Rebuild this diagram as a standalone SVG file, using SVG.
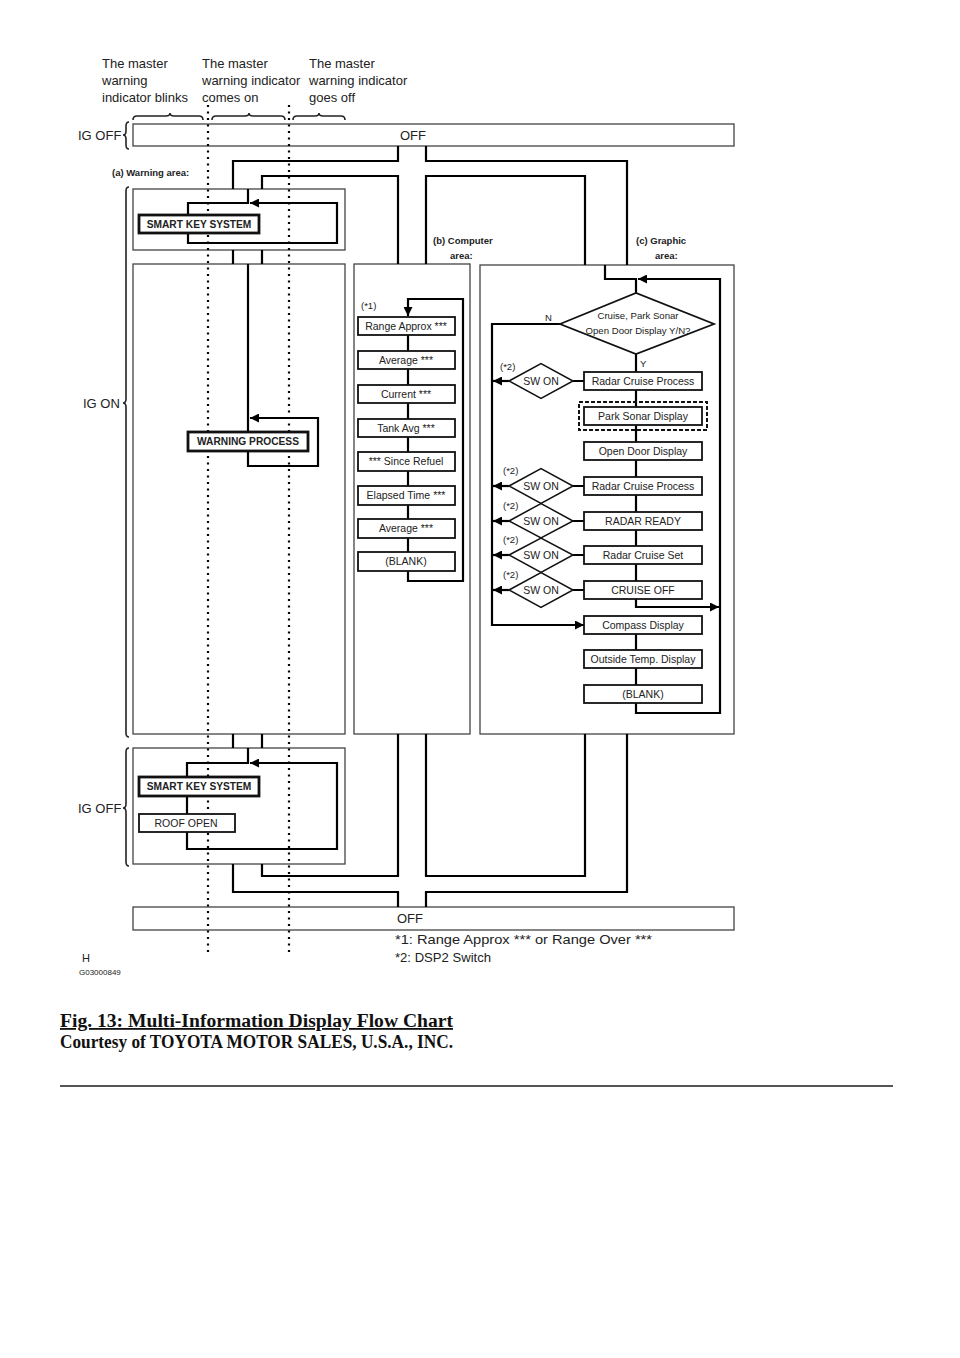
<svg xmlns="http://www.w3.org/2000/svg" width="960" height="1358" viewBox="0 0 960 1358">
<defs>
<style>
.t{font-family:"Liberation Sans",Arial,sans-serif;fill:#222}
.s13{font-size:13px}
.s9{font-size:9.5px}
.s10{font-size:10.5px}
.b{font-weight:bold}
.area{fill:#fff;stroke:#444;stroke-width:1.3}
.flow{fill:none;stroke:#000;stroke-width:2.2}
.br{fill:none;stroke:#222;stroke-width:1.6}
.box{fill:#fff;stroke:#111;stroke-width:1.8}
.bbox{fill:#fff;stroke:#111;stroke-width:2.8}
.dot{stroke:#000;stroke-width:2.2;stroke-dasharray:2 4.5;fill:none}
.cap{font-family:"Liberation Serif","Times New Roman",serif;font-weight:bold;font-size:18px;fill:#111}
</style>
<marker id="ar" viewBox="0 0 10 10" refX="10" refY="5" markerWidth="9" markerHeight="9" markerUnits="userSpaceOnUse" orient="auto"><path d="M0,0 L10,5 L0,10 z" fill="#000"/></marker>
</defs>
<rect width="960" height="1358" fill="#fff"/>

<g id="headers">
<text class="t s13" x="102" y="68">The master</text>
<text class="t s13" x="102" y="85">warning</text>
<text class="t s13" x="102" y="102">indicator blinks</text>
<text class="t s13" x="202" y="68">The master</text>
<text class="t s13" x="202" y="85">warning indicator</text>
<text class="t s13" x="202" y="102">comes on</text>
<text class="t s13" x="309" y="68">The master</text>
<text class="t s13" x="309" y="85">warning indicator</text>
<text class="t s13" x="309" y="102">goes off</text>
<path class="br" d="M133,120 q0,-4 4,-4 H166 q4,0 4,-3 q0,3 4,3 H199 q4,0 4,4"/>
<path class="br" d="M212,120 q0,-4 4,-4 H245 q4,0 4,-3 q0,3 4,3 H281 q4,0 4,4"/>
<path class="br" d="M293,120 q0,-4 4,-4 H315 q4,0 4,-3 q0,3 4,3 H341 q4,0 4,4"/>
</g>

<g id="brackets">
<path class="br" d="M129,122 q-3,0 -3,4 V131 q0,4 -3,4 q3,0 3,4 V145 q0,4 3,4"/>
<text class="t s13" x="78" y="140">IG OFF</text>
<path class="br" d="M129,187 q-3,0 -3,4 V399 q0,4 -3,4 q3,0 3,4 V733 q0,4 3,4"/>
<text class="t s13" x="83" y="408">IG ON</text>
<path class="br" d="M129,748 q-3,0 -3,4 V804 q0,4 -3,4 q3,0 3,4 V862 q0,4 3,4"/>
<text class="t s13" x="78" y="813">IG OFF</text>
</g>

<g id="areas">
<rect id="off-top" class="area" x="133" y="124" width="601" height="22"/>
<text class="t s13" x="400" y="140">OFF</text>
<rect id="warning-area" class="area" x="133" y="189" width="212" height="61"/>
<rect id="igon-area" class="area" x="133" y="264" width="212" height="470"/>
<rect id="computer-area" class="area" x="354" y="264" width="116" height="470"/>
<rect id="graphic-area" class="area" x="480" y="265" width="254" height="469"/>
<rect id="igoff-area" class="area" x="133" y="748" width="212" height="116"/>
<rect id="off-bottom" class="area" x="133" y="907" width="601" height="23"/>
<text class="t s13" x="397" y="923">OFF</text>
<text class="t s9 b" x="112" y="176">(a) Warning area:</text>
<text class="t s9 b" x="433" y="244">(b) Computer</text>
<text class="t s9 b" x="450" y="259">area:</text>
<text class="t s9 b" x="636" y="244">(c) Graphic</text>
<text class="t s9 b" x="655" y="259">area:</text>
</g>

<g id="dotted">
<line class="dot" x1="208" y1="105" x2="208" y2="954"/>
<line class="dot" x1="289" y1="105" x2="289" y2="954"/>
</g>

<g id="connectors">
<path class="flow" d="M398,146 V161 H233 V189"/>
<path class="flow" d="M426,146 V161 H627 V265"/>
<path class="flow" d="M262,189 V176 H398 V264"/>
<path class="flow" d="M426,264 V176 H585 V265"/>
<path class="flow" d="M233,250 V264 M262,250 V264 M233,734 V748 M262,734 V748"/>
<path class="flow" d="M233,864 V892 H398 V907"/>
<path class="flow" d="M262,864 V876 H398 V734"/>
<path class="flow" d="M426,734 V876 H585 V734"/>
<path class="flow" d="M627,734 V892 H426 V907"/>
<path class="flow" d="M248,189 V203 H188 V243 H337 V203 H250" marker-end="url(#ar)"/>
<path class="flow" d="M248,264 V431"/>
<path class="flow" d="M248,451 V466 H318 V418 H250" marker-end="url(#ar)"/>
<path class="flow" d="M248,748 V763 H187 V849 H337 V763 H250" marker-end="url(#ar)"/>
<path class="flow" d="M408,334 V553 M408,570 V581 H463 V299 H408 V316" marker-end="url(#ar)"/>
<path class="flow" d="M605,265 V279 H636 V293"/>
<path class="flow" d="M636,703 V713 H720 V279 H638" marker-end="url(#ar)"/>
<path class="flow" d="M560,324 H492 V625 H584" marker-end="url(#ar)"/>
<path class="flow" d="M636,354 V599"/>
<path class="flow" d="M636,599 V607 H719" marker-end="url(#ar)"/>
<path class="flow" d="M636,634 V703"/>
<path class="flow" d="M573,381 H584 M573,486 H584 M573,521 H584 M573,555 H584 M573,590 H584"/>
<path class="flow" d="M509,381 H493" marker-end="url(#ar)"/>
<path class="flow" d="M509,486 H493" marker-end="url(#ar)"/>
<path class="flow" d="M509,521 H493" marker-end="url(#ar)"/>
<path class="flow" d="M509,555 H493" marker-end="url(#ar)"/>
<path class="flow" d="M509,590 H493" marker-end="url(#ar)"/>
</g>

<g id="warning-nodes">
<g id="smart-key-1"><rect class="bbox" x="139" y="215" width="120" height="18"/><text class="t b" font-size="10.2" x="199" y="227.8" text-anchor="middle">SMART KEY SYSTEM</text></g>
<g id="warning-process"><rect class="bbox" x="188" y="432" width="120" height="19"/><text class="t b" font-size="10.2" x="248" y="445.3" text-anchor="middle">WARNING PROCESS</text></g>
<g id="smart-key-2"><rect class="bbox" x="139" y="777" width="120" height="19"/><text class="t b" font-size="10.2" x="199" y="790.3" text-anchor="middle">SMART KEY SYSTEM</text></g>
<g id="roof-open"><rect class="box" x="139" y="814" width="96" height="18" stroke-width="1.5"/><text class="t s10" x="186" y="827" text-anchor="middle">ROOF OPEN</text></g>
</g>

<g id="computer-nodes">
<text class="t s9" x="361" y="309">(*1)</text>
<g id="c1"><rect class="box" x="358" y="317" width="97" height="18"/><text class="t s10" x="406" y="329.8" text-anchor="middle">Range Approx ***</text></g>
<g id="c2"><rect class="box" x="358" y="351" width="97" height="18"/><text class="t s10" x="406" y="363.8" text-anchor="middle">Average ***</text></g>
<g id="c3"><rect class="box" x="358" y="385" width="97" height="18"/><text class="t s10" x="406" y="397.8" text-anchor="middle">Current ***</text></g>
<g id="c4"><rect class="box" x="358" y="419" width="97" height="18"/><text class="t s10" x="406" y="431.8" text-anchor="middle">Tank Avg ***</text></g>
<g id="c5"><rect class="box" x="358" y="452" width="97" height="19"/><text class="t s10" x="406" y="465.3" text-anchor="middle">*** Since Refuel</text></g>
<g id="c6"><rect class="box" x="358" y="486" width="97" height="19"/><text class="t s10" x="406" y="499.3" text-anchor="middle">Elapsed Time ***</text></g>
<g id="c7"><rect class="box" x="358" y="519" width="97" height="19"/><text class="t s10" x="406" y="532.3" text-anchor="middle">Average ***</text></g>
<g id="c8"><rect class="box" x="358" y="552" width="97" height="19"/><text class="t s10" x="406" y="565.3" text-anchor="middle">(BLANK)</text></g>
</g>

<g id="graphic-nodes">
<g id="decision"><polygon class="box" points="560,324 636,293 714,324 636,354"/>
<text class="t" font-size="9.6" x="638" y="319" text-anchor="middle">Cruise, Park Sonar</text>
<text class="t" font-size="9.6" x="638" y="334" text-anchor="middle">Open Door Display Y/N?</text></g>
<text class="t s9" x="545" y="321">N</text>
<text class="t s9" x="640" y="367">Y</text>
<g id="g1"><rect class="box" x="584" y="372" width="118" height="18"/><text class="t s10" x="643" y="384.8" text-anchor="middle">Radar Cruise Process</text></g>
<g id="g2"><rect x="579" y="402" width="128" height="28" fill="none" stroke="#111" stroke-width="2" stroke-dasharray="4 2"/><rect class="box" x="584" y="407" width="118" height="18"/><text class="t s10" x="643" y="419.8" text-anchor="middle">Park Sonar Display</text></g>
<g id="g3"><rect class="box" x="584" y="442" width="118" height="18"/><text class="t s10" x="643" y="454.8" text-anchor="middle">Open Door Display</text></g>
<g id="g4"><rect class="box" x="584" y="477" width="118" height="18"/><text class="t s10" x="643" y="489.8" text-anchor="middle">Radar Cruise Process</text></g>
<g id="g5"><rect class="box" x="584" y="512" width="118" height="18"/><text class="t s10" x="643" y="524.8" text-anchor="middle">RADAR READY</text></g>
<g id="g6"><rect class="box" x="584" y="546" width="118" height="18"/><text class="t s10" x="643" y="558.8" text-anchor="middle">Radar Cruise Set</text></g>
<g id="g7"><rect class="box" x="584" y="581" width="118" height="18"/><text class="t s10" x="643" y="593.8" text-anchor="middle">CRUISE OFF</text></g>
<g id="g8"><rect class="box" x="584" y="616" width="118" height="18"/><text class="t s10" x="643" y="628.8" text-anchor="middle">Compass Display</text></g>
<g id="g9"><rect class="box" x="584" y="650" width="118" height="18"/><text class="t s10" x="643" y="662.8" text-anchor="middle">Outside Temp. Display</text></g>
<g id="g10"><rect class="box" x="584" y="685" width="118" height="18"/><text class="t s10" x="643" y="697.8" text-anchor="middle">(BLANK)</text></g>
<g id="sw1"><polygon fill="#fff" stroke="#111" stroke-width="1.5" points="509,381 541,363.7 573,381 541,398.3"/><text class="t s10" x="541" y="384.8" text-anchor="middle">SW ON</text><text class="t s9" x="500" y="370">(*2)</text></g>
<g id="sw2"><polygon fill="none" stroke="#111" stroke-width="1.5" points="509,486 541,468.5 573,486 541,503.5"/><text class="t s10" x="541" y="489.8" text-anchor="middle">SW ON</text><text class="t s9" x="503" y="474">(*2)</text></g>
<g id="sw3"><polygon fill="none" stroke="#111" stroke-width="1.5" points="509,521 541,503.5 573,521 541,538"/><text class="t s10" x="541" y="524.8" text-anchor="middle">SW ON</text><text class="t s9" x="503" y="509">(*2)</text></g>
<g id="sw4"><polygon fill="none" stroke="#111" stroke-width="1.5" points="509,555 541,538 573,555 541,572.5"/><text class="t s10" x="541" y="558.8" text-anchor="middle">SW ON</text><text class="t s9" x="503" y="543">(*2)</text></g>
<g id="sw5"><polygon fill="none" stroke="#111" stroke-width="1.5" points="509,590 541,572.5 573,590 541,607.5"/><text class="t s10" x="541" y="593.8" text-anchor="middle">SW ON</text><text class="t s9" x="503" y="578">(*2)</text></g>
</g>

<g id="notes">
<text class="t s13" x="395" y="944" textLength="257" lengthAdjust="spacingAndGlyphs">*1: Range Approx *** or Range Over ***</text>
<text class="t s13" x="395" y="962" textLength="96" lengthAdjust="spacingAndGlyphs">*2: DSP2 Switch</text>
<text class="t" font-size="11" x="82" y="962">H</text>
<text class="t" font-size="8" x="79" y="975">G03000849</text>
</g>

<g id="caption">
<text class="cap" x="60" y="1027" text-decoration="underline" textLength="393" lengthAdjust="spacingAndGlyphs">Fig. 13: Multi-Information Display Flow Chart</text>
<text class="cap" x="60" y="1048" textLength="393" lengthAdjust="spacingAndGlyphs">Courtesy of TOYOTA MOTOR SALES, U.S.A., INC.</text>
<line x1="60" y1="1086" x2="893" y2="1086" stroke="#555" stroke-width="2"/>
</g>
</svg>
